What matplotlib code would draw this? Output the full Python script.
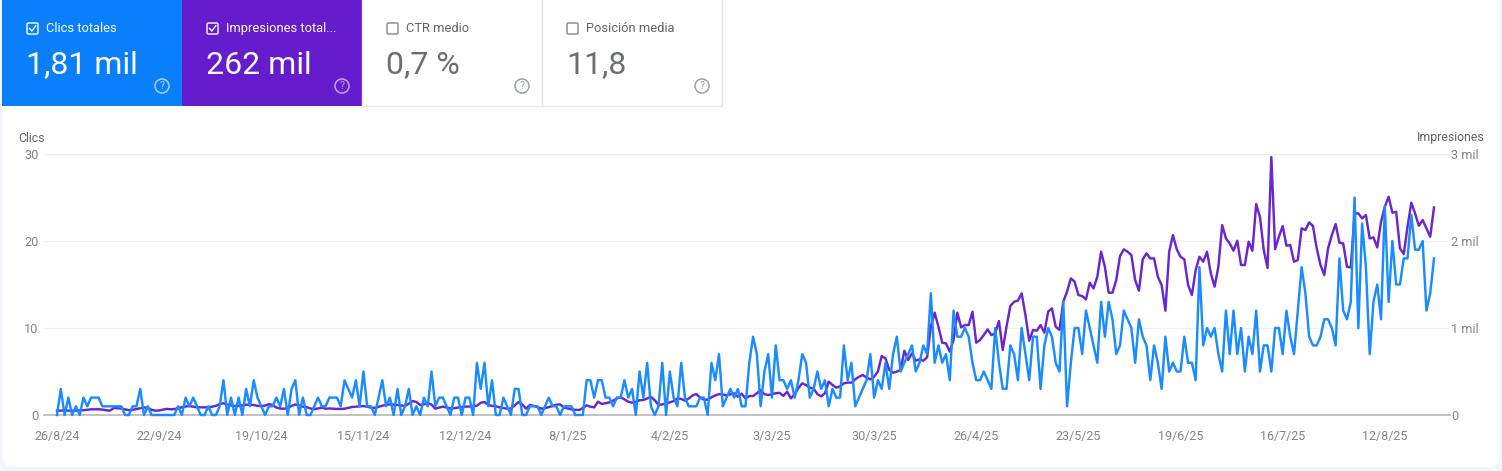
import matplotlib
matplotlib.use("Agg")
import matplotlib.pyplot as plt
import pandas as pd
from matplotlib.patches import Circle, FancyBboxPatch, Rectangle

plt.rcParams["font.family"] = ["Roboto", "DejaVu Sans"]

# values, one per day from 26/8/24
clicks = [
    0, 3, 0, 2, 0, 1, 0, 2, 1, 2, 2, 2, 1, 1, 1, 1, 1, 1, 0, 0,
    1, 1, 3, 0, 1, 0, 0, 0, 0, 0, 0, 0, 1, 0, 2, 1, 2, 1, 0, 0,
    1, 0, 0, 1, 4, 0, 2, 0, 2, 0, 3, 1, 4, 2, 1, 0, 1, 1, 2, 1,
    3, 0, 3, 4, 0, 2, 0, 0, 1, 2, 1, 1, 2, 2, 2, 1, 4, 3, 2, 4,
    1, 5, 1, 1, 0, 2, 4, 1, 2, 0, 3, 0, 1, 3, 0, 1, 0, 2, 1, 5,
    1, 2, 2, 1, 0, 2, 2, 0, 2, 2, 0, 6, 3, 6, 1, 4, 0, 0, 2, 1,
    0, 3, 3, 0, 0, 1, 1, 1, 0, 1, 2, 1, 1, 0, 1, 1, 1, 0, 0, 0,
    4, 4, 2, 4, 4, 2, 2, 1, 2, 2, 4, 2, 3, 0, 5, 2, 6, 1, 0, 1,
    6, 0, 5, 2, 1, 6, 2, 1, 1, 1, 2, 2, 0, 6, 4, 7, 1, 2, 3, 2,
    3, 1, 1, 6, 9, 7, 1, 5, 7, 2, 8, 4, 4, 3, 4, 2, 4, 7, 6, 2,
    3, 5, 3, 4, 1, 3, 2, 2, 8, 4, 6, 1, 2, 3, 4, 7, 2, 4, 3, 6,
    3, 7, 9, 5, 6, 7, 8, 5, 6, 8, 7, 14, 6, 8, 6, 7, 4, 12, 9, 9,
    10, 9, 6, 4, 4, 5, 4, 3, 10, 6, 3, 3, 8, 7, 4, 10, 7, 4, 9, 9,
    3, 8, 10, 9, 6, 5, 13, 1, 6, 10, 10, 7, 12, 10, 8, 6, 13, 9, 13, 11,
    7, 8, 12, 11, 10, 6, 11, 9, 8, 4, 8, 6, 3, 9, 5, 6, 5, 5, 9, 6,
    6, 4, 17, 8, 10, 9, 10, 7, 5, 12, 7, 12, 7, 10, 5, 9, 7, 12, 5, 8,
    8, 5, 10, 10, 7, 12, 9, 7, 12, 17, 14, 9, 8, 8, 9, 11, 11, 10, 8, 18,
    12, 11, 13, 25, 10, 22, 17, 7, 13, 15, 11, 24, 13, 20, 15, 15, 18, 18, 23, 19,
    19, 20, 12, 14, 18,
]
impressions = [
    50, 50, 52, 50, 50, 50, 52, 55, 60, 65, 66, 66, 62, 55, 50, 80, 78, 75, 65, 55,
    60, 68, 78, 88, 80, 60, 50, 52, 62, 70, 66, 68, 76, 90, 98, 103, 95, 88, 88, 88,
    90, 95, 105, 125, 135, 120, 110, 105, 105, 112, 118, 118, 115, 105, 102, 108, 125, 115, 85, 75,
    72, 80, 105, 120, 112, 95, 90, 75, 68, 75, 85, 72, 75, 72, 70, 70, 72, 82, 92, 96,
    100, 103, 95, 85, 82, 95, 107, 115, 122, 120, 115, 110, 103, 130, 160, 150, 115, 125, 134, 120,
    73, 85, 96, 85, 77, 78, 85, 92, 96, 98, 100, 107, 140, 150, 115, 105, 100, 88, 80, 72,
    75, 110, 150, 120, 73, 115, 105, 90, 73, 80, 90, 105, 118, 122, 85, 75, 65, 60, 57, 80,
    111, 95, 88, 153, 128, 135, 145, 165, 191, 203, 180, 153, 142, 150, 170, 172, 190, 210, 170, 115,
    122, 134, 145, 160, 191, 185, 165, 190, 225, 241, 200, 178, 175, 203, 225, 240, 235, 226, 238, 249,
    211, 245, 190, 218, 218, 250, 285, 240, 230, 240, 250, 255, 220, 268, 191, 240, 310, 364, 345, 314,
    305, 240, 215, 250, 383, 345, 314, 330, 364, 372, 372, 410, 440, 460, 430, 410, 440, 500, 678, 651,
    517, 486, 498, 517, 739, 632, 709, 624, 640, 624, 663, 1015, 1176, 1015, 831, 823, 728, 862, 1176, 1007,
    1034, 1034, 1187, 831, 862, 919, 984, 919, 938, 1080, 747, 1015, 1252, 1302, 1314, 1398, 1149, 854, 977, 969,
    1034, 946, 1187, 1226, 1015, 977, 1302, 1417, 1570, 1532, 1379, 1367, 1329, 1520, 1455, 1589, 1877, 1704, 1406, 1406,
    1551, 1827, 1904, 1877, 1838, 1551, 1429, 1789, 1858, 1800, 1800, 1589, 1494, 1199, 1877, 2068, 1904, 1819, 1789, 1494,
    1379, 1666, 1819, 1762, 1877, 1628, 1475, 1704, 2183, 2030, 1972, 1888, 2003, 1724, 1724, 1992, 1888, 2424, 2275, 1896,
    1690, 2965, 1907, 2049, 2172, 1946, 1953, 1762, 1781, 2145, 2126, 2214, 2172, 1915, 1724, 1609, 1915, 2068, 2195, 1980,
    1972, 1704, 1697, 2317, 2317, 2260, 2298, 2030, 2041, 1926, 2221, 2394, 2509, 2325, 2336, 1915, 1850, 2164, 2440, 2317,
    2175, 2241, 2145, 2049, 2386,
]
click_ticks = [0, 10, 20, 30]
impression_ticks = [0, 1000, 2000, 3000]
impression_labels = ["0", "1 mil", "2 mil", "3 mil"]

card_titles = ["Clics totales", "Impresiones total...", "CTR medio", "Posición media"]
card_values = ["1,81 mil", "262 mil", "0,7 %", "11,8"]

BLUE_CARD = "#0a7ffb"
PURPLE_CARD = "#641ccc"
BLUE_LINE = "#1a8cff"
PURPLE_LINE = "#6a26d0"
GREY = "#80868b"
DARK_GREY = "#5f6368"

W, H = 1502, 471
fig = plt.figure(figsize=(W / 100, H / 100), dpi=100, facecolor="#f1f6fb")

# page layer in pixel coordinates: card, tiles, labels
page = fig.add_axes([0, 0, 1, 1])
page.set_xlim(0, W)
page.set_ylim(H, 0)
page.axis("off")

page.add_patch(FancyBboxPatch((2.5, -20), 1497, 487, boxstyle="round,pad=0,rounding_size=10",
                              fc="white", ec="none"))

card_x = [2, 182, 362, 542]
card_w = 180
for i, title in enumerate(card_titles):
    x = card_x[i]
    if i == 0:
        face, fg, value_c, icon_c = BLUE_CARD, "white", "white", "#a9d2fb"
    elif i == 1:
        face, fg, value_c, icon_c = PURPLE_CARD, "white", "white", "#c3a6ec"
    else:
        face, fg, value_c, icon_c = "white", DARK_GREY, "#6a6e73", "#9aa0a6"
    page.add_patch(Rectangle((x, -3), card_w, 109, fc=face, ec="#e6e8ea" if i > 1 else "none", lw=1))

    # checkbox
    page.add_patch(FancyBboxPatch((x + 25, 23), 11, 11, boxstyle="round,pad=0,rounding_size=1.5",
                                  fc="none", ec="white" if i < 2 else "#80868b", lw=1))
    if i < 2:
        page.plot([x + 27.5, x + 29.8, x + 33.8], [28.5, 31, 25.8], color="white", lw=1)

    page.text(x + 43.5, 28.5, title, color=fg, fontsize=9.3, va="center", ha="left")
    page.text(x + 24.5, 65, card_values[i], color=value_c, fontsize=23,
              va="center", ha="left")

    # help icon
    page.add_patch(Circle((x + 160, 86), 7, fc="none", ec=icon_c, lw=1.1))
    page.text(x + 160, 86.3, "?", color=icon_c, fontsize=7.5, va="center", ha="center")

page.text(18, 138, "Clics", color=DARK_GREY, fontsize=8.8, va="center", ha="left")
page.text(1485, 138, "Impresiones", color=DARK_GREY, fontsize=8.8, va="center", ha="right")

# chart: plot area runs px 44-1450, y 154-415, first day at 57, last at 1434
left, right, top, bottom = 44, 1450, 154, 415
ax = fig.add_axes([left / W, 1 - bottom / H, (right - left) / W, (bottom - top) / H])
ax.patch.set_alpha(0)
dates = pd.date_range("2024-08-26", periods=len(clicks), freq="D")
days = list(range(len(clicks)))
per_day = (1434 - 57) / (len(clicks) - 1)
ax.set_xlim(-(57 - left) / per_day, (len(clicks) - 1) + (right - 1434) / per_day)
ax.set_ylim(0, 30)

ax.set_yticks(click_ticks)
ax.grid(axis="y", color="#eff0f1", lw=1)
ax.set_axisbelow(True)
for s in ["top", "left", "right"]:
    ax.spines[s].set_visible(False)
ax.spines["bottom"].set_color("#bdbdbd")
ax.spines["bottom"].set_linewidth(1.3)
ax.tick_params(axis="y", length=0, labelsize=9.2, labelcolor=GREY, pad=4)

tick_days = days[::27]
ax.set_xticks(tick_days)
ax.set_xticklabels([f"{d.day}/{d.month}/{d.strftime('%y')}" for d in dates[tick_days]])
ax.tick_params(axis="x", length=0, labelsize=9, labelcolor=GREY, pad=11)

ax2 = ax.twinx()
ax2.patch.set_alpha(0)
ax2.set_ylim(0, 3000)
ax2.set_yticks(impression_ticks)
ax2.set_yticklabels(impression_labels)
ax2.tick_params(axis="y", length=0, labelsize=9.2, labelcolor=GREY, pad=1)
for s in ax2.spines.values():
    s.set_visible(False)

ax2.plot(days, impressions, color=PURPLE_LINE, lw=1.75, zorder=2, clip_on=False)
ax2.plot(days, [c * 100 for c in clicks], color=BLUE_LINE, lw=1.75, zorder=3, clip_on=False)

fig.savefig("out.png", dpi=100, facecolor=fig.get_facecolor())
